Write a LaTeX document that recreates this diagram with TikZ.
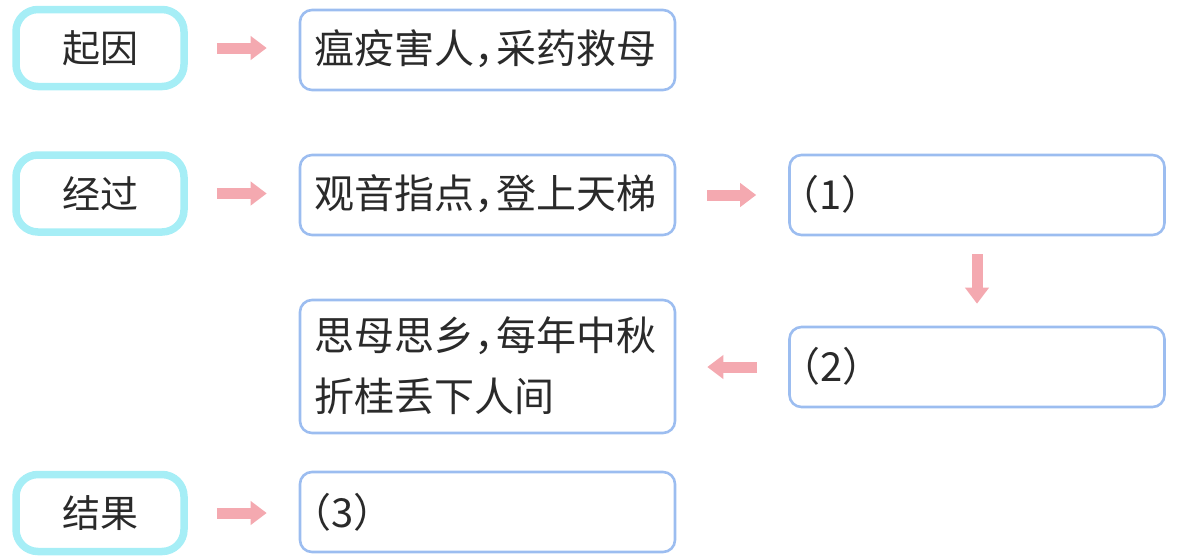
\documentclass[tikz,border=0pt]{standalone}
\usepackage{fontspec}
\newfontfamily\cjk{Noto Sans CJK SC}
\usetikzlibrary{arrows.meta}
\definecolor{cyanbox}{HTML}{A6EEF6}
\definecolor{bluebox}{HTML}{9CBDF0}
\definecolor{pinkarr}{HTML}{F4A9B0}
\definecolor{txt}{HTML}{2A2A2A}
\newcommand{\hcomma}{，\kern-0.45em}
\tikzset{
  labelbox/.style={draw=cyanbox, line width=7.5pt, rounded corners=22pt, minimum width=168pt, minimum height=77pt, inner sep=0pt, font=\cjk\fontsize{38}{44}\selectfont, text=txt},
  infobox/.style={draw=bluebox, line width=2.6pt, rounded corners=12pt, minimum width=375pt, minimum height=80pt, inner sep=0pt},
  boxtext/.style={anchor=west, font=\cjk\fontsize{40}{44}\selectfont, text=txt, inner sep=0pt},
  pinkarrow/.style={draw=pinkarr, line width=11pt, -{Triangle[width=23pt,length=16pt]}}
}
\begin{document}
\begin{tikzpicture}[x=1pt,y=-1pt]
\useasboundingbox (0,0) rectangle (1193,558);
% label boxes
\node[labelbox] (qy) at (100,48) {起因};
\node[labelbox] (jg) at (100,193.5) {经过};
\node[labelbox] (jgu) at (100,513) {结果};
% info boxes
\node[infobox] (b1) at (487.5,50) {};
\node[boxtext] (t1) at (314,49) {瘟疫害人\hcomma 采药救母};
\node[infobox] (b2) at (487.5,195) {};
\node[boxtext] (t2) at (314,194) {观音指点\hcomma 登上天梯};
\node[infobox] (b3) at (977,195) {};
\node[boxtext] (t3) at (779,194) {（1）};
\node[infobox] (b4) at (977,367) {};
\node[boxtext] (t4) at (780,366) {（2）};
\node[infobox, minimum height=133pt] (b5) at (487.5,366.5) {};
\node[boxtext] (t5a) at (314,336) {思母思乡\hcomma 每年中秋};
\node[boxtext] (t5b) at (314,396) {折桂丢下人间};
\node[infobox] (b6) at (487.5,512) {};
\node[boxtext] (t6) at (291,512) {（3）};
% arrows
\draw[pinkarrow] ([xshift=29pt]qy.east) -- ([xshift=-32pt]b1.west |- qy.east);
\draw[pinkarrow] ([xshift=29pt]jg.east) -- ([xshift=-32pt]b2.west |- jg.east);
\draw[pinkarrow] ([xshift=29pt]jgu.east) -- ([xshift=-32pt]b6.west |- jgu.east);
\draw[pinkarrow] ([xshift=31pt]b2.east) -- ([xshift=-32pt]b3.west);
\draw[pinkarrow] ([yshift=-18pt]b3.south) -- ([yshift=22pt]b4.north);
\draw[pinkarrow] ([xshift=-31pt]b4.west) -- ([xshift=31pt]b4.west -| b5.east);
\end{tikzpicture}
\end{document}
